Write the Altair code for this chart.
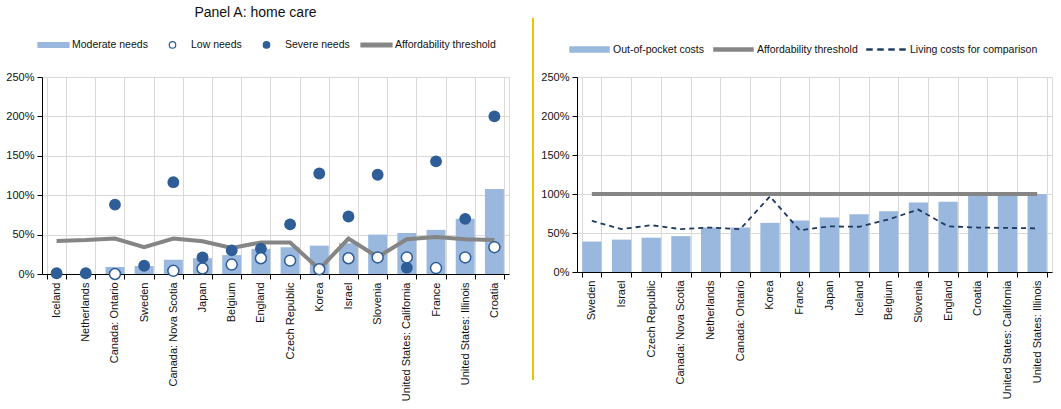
import altair as alt
import pandas as pd

# ---------------- Panel A: home care ----------------
a_countries = ["Iceland", "Netherlands", "Canada: Ontario", "Sweden", "Canada: Nova Scotia",
               "Japan", "Belgium", "England", "Czech Republic", "Korea", "Israel", "Slovenia",
               "United States: California", "France", "United States: Illinois", "Croatia"]
a_moderate = [0, 0, 9, 10, 18, 20, 24, 32, 34, 36, 39, 50, 52, 56, 70, 108]
a_low = [None, None, 0, None, 4, 7, 12, 20, 17, 6, 20, 21, 21, 7.5, 21, 34]
a_severe = [1, 1, 88, 10.5, 116.5, 21, 30, 32, 63, 127.5, 73, 126, 8, 143, 70, 200]
a_threshold = [42, 43, 45, 34, 45, 41.5, 33, 40, 40, 6, 45, 21.5, 44, 47, 44, 43]
a_series = ["Moderate needs", "Low needs", "Severe needs", "Affordability threshold"]

# ---------------- Panel B ----------------
b_countries = ["Sweden", "Israel", "Czech Republic", "Canada: Nova Scotia", "Netherlands",
               "Canada: Ontario", "Korea", "France", "Japan", "Iceland", "Belgium", "Slovenia",
               "England", "Croatia", "United States: California", "United States: Illinois"]
b_oop = [39, 41.5, 44, 46, 57, 57, 63, 66, 70, 74, 78, 89, 90, 100, 100, 100]
b_threshold = [100, 100, 100, 100, 100, 100, 100, 100, 100, 100, 100, 100, 100, 100, 100, 100]
b_living = [65.5, 55, 60, 55, 57, 55, 97, 53.5, 58.5, 58, 67.5, 80, 58.5, 57, 56.5, 56]
b_series = ["Out-of-pocket costs", "Affordability threshold", "Living costs for comparison"]

y_ticks = [0, 50, 100, 150, 200, 250]

BAR = "#9AB8DD"
DARK = "#2E5D98"
GRAY = "#858585"
NAVY = "#1F3A60"
GRID = "#D9D9D9"
SANS = "'Liberation Sans', Arial, sans-serif"

A = pd.DataFrame({"country": a_countries, "moderate": a_moderate, "low": a_low,
                  "severe": a_severe, "threshold": a_threshold})
B = pd.DataFrame({"country": b_countries, "oop": b_oop, "threshold": b_threshold,
                  "living": b_living})


def x_enc(order):
    return alt.X("country:N", sort=order, title=None,
                 scale=alt.Scale(paddingInner=0.35, paddingOuter=0.175),
                 axis=alt.Axis(labelAngle=-90, tickBand="extent", grid=True, gridColor=GRID,
                               domainColor="#000", tickColor="#000", tickSize=5,
                               labelFont=SANS, labelFontSize=11, labelColor="#111",
                               labelPadding=3, labelLimit=200))


Y_AXIS = alt.Axis(values=y_ticks, tickCount=6, labelExpr="datum.value + '%'", grid=True,
                  gridColor=GRID, domainColor="#000", tickColor="#000", tickSize=5,
                  labelFont=SANS, labelFontSize=11, labelColor="#111",
                  labelPadding=3, labelOverlap=False, labelFlush=False)
Y_SCALE = alt.Scale(domain=[0, 250], nice=False, zero=True)


def y_enc(field):
    return alt.Y(f"{field}:Q", title=None, scale=Y_SCALE, axis=Y_AXIS)


# legend symbol paths (normalised to [-1, 1], scaled by legend symbol size)
rect_bar = "M-1,-0.16H1V0.16H-1Z"
rect_line = "M-1,-0.12H1V0.12H-1Z"
small_circle = "M0.21,0A0.21,0.21,0,1,1,-0.21,0A0.21,0.21,0,1,1,0.21,0Z"
rect_bar_b = "M-1,-0.15H1V0.15H-1Z"
rect_line_b = "M-1,-0.1H1V0.1H-1Z"
dashes = ("M-1,-0.045H-0.7V0.045H-1Z M-0.45,-0.045H-0.15V0.045H-0.45Z "
          "M0.1,-0.045H0.4V0.045H0.1Z M0.65,-0.045H0.95V0.045H0.65Z")

# ---------------- left chart ----------------
xa = x_enc(a_countries)
bars_a = alt.Chart(A).mark_bar(color=BAR).encode(x=xa, y=y_enc("moderate"))
line_a = alt.Chart(A).mark_line(color=GRAY, strokeWidth=4).encode(x=xa, y=y_enc("threshold"))
severe_a = alt.Chart(A).mark_point(filled=True, color=DARK, size=140, opacity=1).encode(
    x=xa, y=y_enc("severe"))
low_a = alt.Chart(A).transform_filter("isValid(datum.low)").mark_point(
    filled=True, fill="white", stroke=DARK, strokeWidth=1.5, size=120, opacity=1).encode(
    x=xa, y=y_enc("low"))

leg_a = alt.Chart(pd.DataFrame({"series": a_series})).transform_filter("false").mark_point(
    filled=True, opacity=1, strokeWidth=1.2).encode(
    shape=alt.Shape("series:N", scale=alt.Scale(domain=a_series,
                    range=[rect_bar, small_circle, small_circle, rect_line]),
                    legend=alt.Legend(title=None, orient="none", direction="horizontal",
                                      legendX=-5, legendY=-49, symbolSize=961,
                                      labelFont=SANS, labelFontSize=10.5, labelColor="#111",
                                      labelOffset=2, columnPadding=8, padding=0,
                                      symbolStrokeWidth=1.2)),
    fill=alt.Fill("series:N", scale=alt.Scale(domain=a_series,
                  range=[BAR, "white", DARK, GRAY])),
    stroke=alt.Stroke("series:N", scale=alt.Scale(domain=a_series,
                      range=[BAR, DARK, DARK, GRAY])),
)

left = alt.layer(bars_a, line_a, severe_a, low_a, leg_a).properties(
    width=467, height=197,
    title=alt.TitleParams("Panel A: home care", font=SANS, fontSize=14,
                          fontWeight="normal", color="#111", anchor="middle",
                          dx=-20, offset=8))

# ---------------- right chart ----------------
xb = x_enc(b_countries)
bars_b = alt.Chart(B).mark_bar(color=BAR).encode(x=xb, y=y_enc("oop"))
thr_b = alt.Chart(B).mark_line(color=GRAY, strokeWidth=4).encode(x=xb, y=y_enc("threshold"))
liv_b = alt.Chart(B).mark_line(color=NAVY, strokeWidth=1.8, strokeDash=[5, 4]).encode(
    x=xb, y=y_enc("living"))

leg_b = alt.Chart(pd.DataFrame({"series": b_series})).transform_filter("false").mark_point(
    filled=True, opacity=1, strokeWidth=0.5).encode(
    shape=alt.Shape("series:N", scale=alt.Scale(domain=b_series,
                    range=[rect_bar_b, rect_line_b, dashes]),
                    legend=alt.Legend(title=None, orient="none", direction="horizontal",
                                      legendX=-8, legendY=-48, symbolSize=1600,
                                      labelFont=SANS, labelFontSize=10.5, labelColor="#111",
                                      labelOffset=3, columnPadding=7, padding=0,
                                      symbolStrokeWidth=0.5)),
    fill=alt.Fill("series:N", scale=alt.Scale(domain=b_series, range=[BAR, GRAY, NAVY])),
    stroke=alt.Stroke("series:N", scale=alt.Scale(domain=b_series, range=[BAR, GRAY, NAVY])),
)

sep = alt.Chart(pd.DataFrame({"k": [0]})).mark_rule(
    color="#E9C400", strokeWidth=2, clip=False).encode(
    x=alt.value(-44), y=alt.value(-59), y2=alt.value(303))

right = alt.layer(bars_b, thr_b, liv_b, leg_b, sep).properties(width=475, height=195)

chart = alt.hconcat(left, right, spacing=68, bounds="flush").resolve_scale(
    x="independent", y="independent", shape="independent", fill="independent",
    stroke="independent").configure_view(stroke=None).configure(
    padding={"left": 5, "top": 5, "right": 2, "bottom": 0}, background="white")

chart.save("out.html", embed_options={"renderer": "svg", "actions": False})
